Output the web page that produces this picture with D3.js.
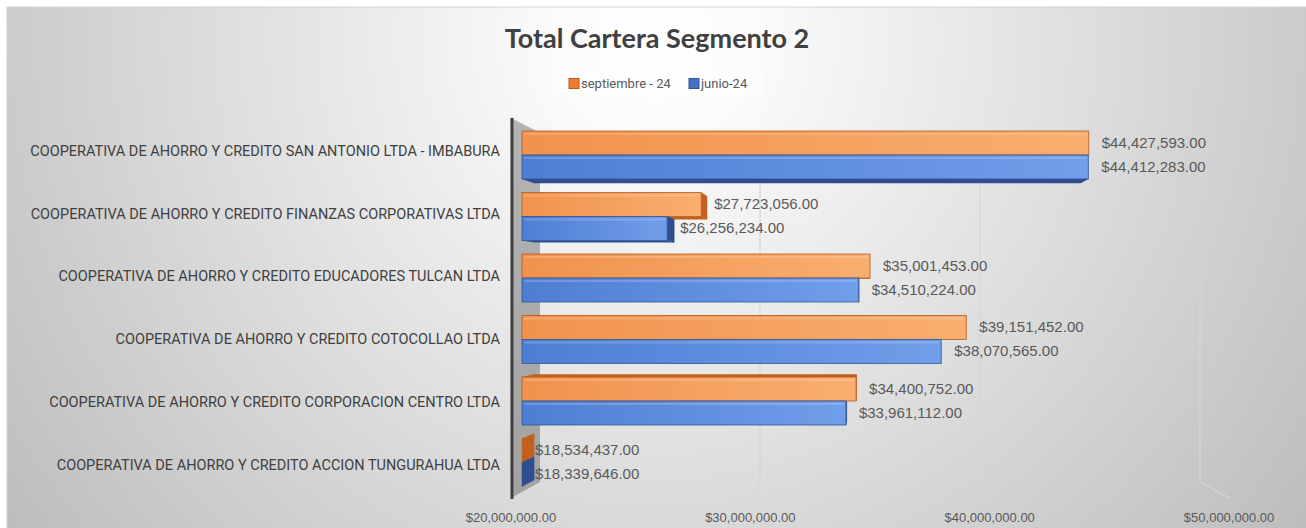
<!DOCTYPE html>
<html>
<head>
<meta charset="utf-8">
<title>Total Cartera Segmento 2</title>
<style>
body { margin: 0; background: #ffffff; }
svg { display: block; }
</style>
</head>
<body>
<div id="chart"></div>
<script src="https://d3js.org/d3.v7.min.js"></script>
<script>
// chart data
var categories = [
  "COOPERATIVA DE AHORRO Y CREDITO SAN ANTONIO LTDA - IMBABURA",
  "COOPERATIVA DE AHORRO Y CREDITO FINANZAS CORPORATIVAS LTDA",
  "COOPERATIVA DE AHORRO Y CREDITO EDUCADORES TULCAN LTDA",
  "COOPERATIVA DE AHORRO Y CREDITO COTOCOLLAO LTDA",
  "COOPERATIVA DE AHORRO Y CREDITO CORPORACION CENTRO LTDA",
  "COOPERATIVA DE AHORRO Y CREDITO ACCION TUNGURAHUA LTDA"
];
var septiembre24 = [44427593, 27723056, 35001453, 39151452, 34400752, 18534437];
var junio24 = [44412283, 26256234, 34510224, 38070565, 33961112, 18339646];
var seriesNames = ["septiembre - 24", "junio-24"];
var xTicks = [20000000, 30000000, 40000000, 50000000];

var W = 1306, H = 528;
var fmt = d3.format("$,.2f");

// perspective: vanishing point and plane factors (back wall = 1)
var vp = { x: 870, y: 300 };
var fFront = 1.088, fBarFront = 1.0545, fBarBack = 1.018;
function proj(x, y, f) { return [vp.x + (x - vp.x) * f, vp.y + (y - vp.y) * f]; }

var svg = d3.select("#chart").append("svg").attr("width", W).attr("height", H);
var defs = svg.append("defs");

var bg = defs.append("radialGradient").attr("id", "bg")
  .attr("gradientUnits", "userSpaceOnUse")
  .attr("cx", 655).attr("cy", 40).attr("r", 820);
bg.append("stop").attr("offset", 0).attr("stop-color", "#ffffff");
bg.append("stop").attr("offset", 0.12).attr("stop-color", "#fbfbfb");
bg.append("stop").attr("offset", 1).attr("stop-color", "#bcbcbc");

function hGrad(id, c0, c1) {
  var g = defs.append("linearGradient").attr("id", id).attr("x1", 0).attr("x2", 1).attr("y1", 0).attr("y2", 0);
  g.append("stop").attr("offset", 0).attr("stop-color", c0);
  g.append("stop").attr("offset", 1).attr("stop-color", c1);
}
hGrad("gOrange", "#F1924D", "#F9AE70");
hGrad("gBlue", "#4E7ED3", "#719EEA");
var wg = defs.append("linearGradient").attr("id", "gWall").attr("x1", 0).attr("x2", 0).attr("y1", 0).attr("y2", 1);
wg.append("stop").attr("offset", 0).attr("stop-color", "#b4b4b4");
wg.append("stop").attr("offset", 1).attr("stop-color", "#a2a2a2");

svg.append("rect").attr("x", 7).attr("y", 7).attr("width", W - 7).attr("height", H - 7)
  .attr("fill", "url(#bg)");
svg.append("path").attr("d", "M7," + H + "V7H" + W).attr("fill", "none")
  .attr("stroke", "#d4d4d4").attr("stroke-width", 1.2);

// title
svg.append("text").attr("x", 657).attr("y", 48).attr("text-anchor", "middle")
  .attr("font-family", "Lato, 'Open Sans', sans-serif").attr("font-weight", 700)
  .attr("font-size", 27).attr("fill", "#404040")
  .text("Total Cartera Segmento 2");

// legend
var colors = ["#ED7D31", "#4472C4"];
var strokes = ["#B85A1B", "#2F5597"];
var legend = svg.append("g");
legend.append("rect").attr("x", 553).attr("y", 70).attr("width", 209).attr("height", 27)
  .attr("fill", "#ffffff").attr("fill-opacity", 0.45);
var legX = [569, 689];
seriesNames.forEach(function(n, i) {
  legend.append("rect").attr("x", legX[i]).attr("y", 78.5).attr("width", 10).attr("height", 10)
    .attr("fill", colors[i]).attr("stroke", strokes[i]).attr("stroke-width", 1);
  legend.append("text").attr("x", legX[i] + 12).attr("y", 88)
    .attr("font-family", "Roboto, sans-serif").attr("font-size", 13).attr("fill", "#595959")
    .text(n);
});

// back-plane scales
var xBack = d3.scaleLinear().domain([20000000, 50000000]).range([540, 1200]);
var yTopBack = 132.7, yBotBack = 482;

// gridlines (back wall + floor)
var grid = svg.append("g");
xTicks.slice(1).forEach(function(t) {
  var bx = xBack(t);
  var fp = proj(bx, yBotBack, fFront);
  grid.append("path")
    .attr("d", "M" + bx + "," + yTopBack + "V" + yBotBack + "L" + fp[0] + "," + fp[1])
    .attr("fill", "none").attr("stroke", "#d6d6d6").attr("stroke-width", 1.2);
});

// side wall at the axis minimum
var wx = xBack(20000000);
var wTop = proj(wx, yTopBack, fFront), wBot = proj(wx, yBotBack, fFront);
svg.append("path")
  .attr("d", "M" + wTop[0] + "," + wTop[1] + "L" + wx + "," + yTopBack + "L" + wx + "," + yBotBack +
    "L" + wBot[0] + "," + wBot[1] + "Z")
  .attr("fill", "url(#gWall)");
svg.append("line").attr("x1", wTop[0] + 1).attr("x2", wBot[0] + 1).attr("y1", wTop[1]).attr("y2", wBot[1] + 1)
  .attr("stroke", "#3f3f3f").attr("stroke-width", 3);

// axis labels on the front edge of the floor
var axisG = svg.append("g").attr("font-family", "'Liberation Sans', Arial, sans-serif")
  .attr("font-size", 13).attr("fill", "#595959").attr("text-anchor", "middle");
xTicks.forEach(function(t) {
  var fp = proj(xBack(t), yBotBack, fFront);
  axisG.append("text").attr("x", fp[0]).attr("y", 522).text(fmt(t));
});

// bars on the front plane of the bar block
var xBar = d3.scaleLinear().domain([20000000, 50000000])
  .range([proj(xBack.range()[0], 0, fBarFront)[0], proj(xBack.range()[1], 0, fBarFront)[0]]);
var yGroup = d3.scaleBand().domain(categories).range([124.25, 493.25]).paddingInner(0.2195).paddingOuter(0.11);
var ySeries = d3.scaleBand().domain([0, 1]).range([0, yGroup.bandwidth()]);
var kBack = fBarBack / fBarFront;
function back(p) { return [vp.x + (p[0] - vp.x) * kBack, vp.y + (p[1] - vp.y) * kBack]; }

var bars = [];
categories.forEach(function(c, i) {
  [septiembre24[i], junio24[i]].forEach(function(v, s) {
    var y0 = yGroup(c) + ySeries(s), y1 = y0 + ySeries.bandwidth();
    var x0 = xBar(20000000), x1 = xBar(Math.max(v, 20000000));
    bars.push({ c: c, s: s, v: v, x0: x0, x1: x1, y0: y0, y1: y1 });
  });
});

var dark = ["#C2611D", "#2E4E8E"];
var faces = svg.append("g");
bars.forEach(function(b) {
  var p = function(a) { return a[0] + "," + a[1]; };
  // end cap
  if (b.x1 < vp.x) {
    var a = [b.x1, b.y0], d = [b.x1, b.y1];
    faces.append("path").attr("d", "M" + p(a) + "L" + p(back(a)) + "L" + p(back(d)) + "L" + p(d) + "Z")
      .attr("fill", dark[b.s]).attr("stroke", dark[b.s]).attr("stroke-width", 0.5);
  }
  if (b.x1 > b.x0) {
    // bottom or top face
    var yy = b.y1 < vp.y ? b.y1 : b.y0;
    var l = [b.x0, yy], r = [b.x1, yy];
    faces.append("path").attr("d", "M" + p(l) + "L" + p(r) + "L" + p(back(r)) + "L" + p(back(l)) + "Z")
      .attr("fill", dark[b.s]);
  }
});
var fronts = svg.append("g");
bars.filter(function(b) { return b.x1 > b.x0; }).forEach(function(b) {
  fronts.append("rect").attr("x", b.x0).attr("y", b.y0).attr("width", b.x1 - b.x0).attr("height", b.y1 - b.y0)
    .attr("fill", b.s === 0 ? "url(#gOrange)" : "url(#gBlue)")
    .attr("stroke", strokes[b.s]).attr("stroke-width", 1).attr("stroke-opacity", 0.8);
  fronts.append("line").attr("x1", b.x0 + 2).attr("x2", b.x1 - 2).attr("y1", b.y0 + 3).attr("y2", b.y0 + 3)
    .attr("stroke", "#ffffff").attr("stroke-opacity", 0.18).attr("stroke-width", 2);
});

// data labels
var labG = svg.append("g").attr("font-family", "'Liberation Sans', Arial, sans-serif")
  .attr("font-size", 15).attr("fill", "#595959");
bars.forEach(function(b) {
  labG.append("text").attr("x", b.x1 + 13).attr("y", (b.y0 + b.y1) / 2 + 1)
    .attr("dominant-baseline", "middle").text(fmt(b.v));
});

// category labels
var yLabel = d3.scalePoint().domain(categories).range([152, 466]);
var catG = svg.append("g").attr("font-family", "Roboto, sans-serif").attr("font-size", 14.5)
  .attr("fill", "#404040").attr("text-anchor", "end");
categories.forEach(function(c) {
  catG.append("text").attr("x", 500).attr("y", yLabel(c)).attr("dominant-baseline", "middle").text(c);
});
</script>
</body>
</html>
